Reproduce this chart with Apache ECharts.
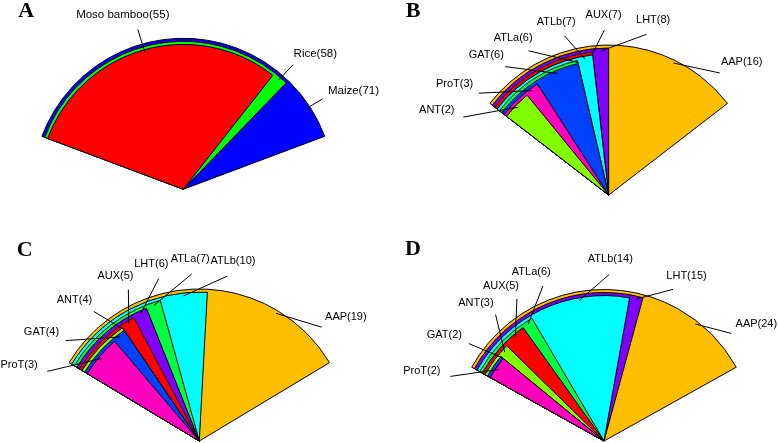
<!DOCTYPE html>
<html><head><meta charset="utf-8">
<script src="https://cdn.jsdelivr.net/npm/echarts@6/dist/echarts.min.js"></script>
<style>html,body{margin:0;padding:0;background:#fff}#c{width:778px;height:443px}</style>
</head><body><div id="c"></div>
<script>
// ---------- data ----------
const speciesNames = ['Moso bamboo', 'Rice', 'Maize'];
const speciesTotals = [55, 58, 71];
const familyNames = ['AUX', 'AAP', 'ANT', 'ATLa', 'ATLb', 'GAT', 'LHT', 'ProT'];
const mosoCounts  = [7, 16, 2, 6, 7, 6, 8, 3];
const riceCounts  = [5, 19, 4, 7, 10, 4, 6, 3];
const maizeCounts = [5, 24, 3, 6, 14, 2, 15, 2];
const panelLetters = ['A', 'B', 'C', 'D'];

// ---------- styles / layout ----------
const speciesColors = ['#FF0000', '#00FF00', '#0000FF'];
const familyColors = ['#FF0000', '#FFBF00', '#80FF00', '#00FF40', '#00FFFF', '#0040FF', '#8000FF', '#FF00BF'];

const panels = [
  {names: speciesNames, values: speciesTotals, colors: speciesColors, cx: 183.3, cy: 189.3, R: 151, fs: 11.5,
   labelAngles: [105.9, 48.6, 33.0], lx: 18.3, ly: 11.2},
  {names: familyNames, values: mosoCounts, colors: familyColors, cx: 608.7, cy: 195, R: 150, fs: 11,
   labelAngles: [91.5, 47.7, 151.8, 119.1, 105.5, 128.9, 76.8, 141.9], lx: 405.7, ly: 10.9},
  {names: familyNames, values: riceCounts, colors: familyColors, cx: 199.3, cy: 441, R: 152, fs: 11,
   labelAngles: [115.1, 42.9, 129.2, 92.6, 80.4, 143.1, 104.1, 155.4], lx: 16.7, ly: 250.2},
  {names: familyNames, values: maizeCounts, colors: familyColors, cx: 604, cy: 441, R: 151.5, fs: 11,
   labelAngles: [121.5, 40.2, 130.6, 111.5, 88.2, 144.2, 65.5, 157.2], lx: 405, ly: 249.2}
];

const DEG = Math.PI / 180;
const sectorSeries = [];
const labelSeries = [];
const graphics = [];

panels.forEach((p, pi) => {
  const n = p.values.length;
  const T = p.values.reduce((a, b) => a + b, 0);
  const order = p.values.map((v, i) => i).sort((a, b) => p.values[b] - p.values[a]);
  const spans = order.map(i => p.values[i] / T * 360);
  const left = 90 + spans[0] / 2;
  const toXY = (a, rad) => [p.cx + rad * Math.cos(a * DEG), p.cy - rad * Math.sin(a * DEG)];
  const anchorAngle = [], anchorR = [];

  order.forEach((idx, k) => {
    const v = p.values[idx];
    const r = p.R * (1 - 0.02 * k);
    const right = left - spans[k];
    const nextRight = k < n - 1 ? left - spans[k + 1] : left;
    const tie = k < n - 1 && Math.abs(spans[k + 1] - spans[k]) < 1e-9;
    anchorAngle[idx] = (right + nextRight) / 2;
    anchorR[idx] = tie ? r - 0.012 * p.R : r - 0.02 * p.R;
    sectorSeries.push({
      type: 'pie',
      center: [p.cx, p.cy],
      radius: [0, r],
      startAngle: left,
      clockwise: true,
      animation: false,
      silent: true,
      z: 2,
      label: {show: false},
      labelLine: {show: false},
      emphasis: {disabled: true},
      data: [
        {name: p.names[idx], value: v, itemStyle: {color: p.colors[idx], borderColor: '#000', borderWidth: 1}},
        {name: '', value: T - v, itemStyle: {color: 'rgba(0,0,0,0)', borderWidth: 0}}
      ]
    });
  });

  // label overlay: transparent pie on top that carries text and leader lines
  labelSeries.push({
    type: 'pie',
    center: [p.cx, p.cy],
    radius: [0, p.R],
    startAngle: left,
    clockwise: true,
    animation: false,
    silent: true,
    z: 5,
    avoidLabelOverlap: false,
    emphasis: {disabled: true},
    itemStyle: {color: 'rgba(0,0,0,0)', borderWidth: 0},
    label: {show: true, position: 'outside', fontFamily: 'Liberation Sans', fontSize: p.fs, color: '#000',
            formatter: (prm) => prm.name + '(' + prm.value + ')'},
    labelLine: {show: true, showAbove: true, lineStyle: {color: '#000', width: 1}},
    data: p.names.map((nm, i) => ({name: nm, value: p.values[i]})),
    labelLayout: function (params) {
      const idx = params.dataIndex;
      const la = p.labelAngles[idx];
      const pt = toXY(la, 1.2 * p.R);
      const w = params.labelRect.width;
      return {
        x: pt[0] + 0.85 * Math.cos(la * DEG) * w / 2,
        y: pt[1],
        align: 'center',
        verticalAlign: 'middle',
        labelLinePoints: [toXY(la, 1.1 * p.R), toXY(anchorAngle[idx], anchorR[idx])]
      };
    }
  });

  graphics.push({
    type: 'text', silent: true, z: 10,
    style: {text: panelLetters[pi], x: p.lx, y: p.ly, align: 'left', verticalAlign: 'middle',
            fontFamily: 'Liberation Serif', fontWeight: 'bold', fontSize: 22, fill: '#000'}
  });
});

const chart = echarts.init(document.getElementById('c'), null, {renderer: 'canvas'});
chart.setOption({
  backgroundColor: '#fff',
  animation: false,
  series: sectorSeries.concat(labelSeries),
  graphic: graphics
});
</script>
</body></html>
